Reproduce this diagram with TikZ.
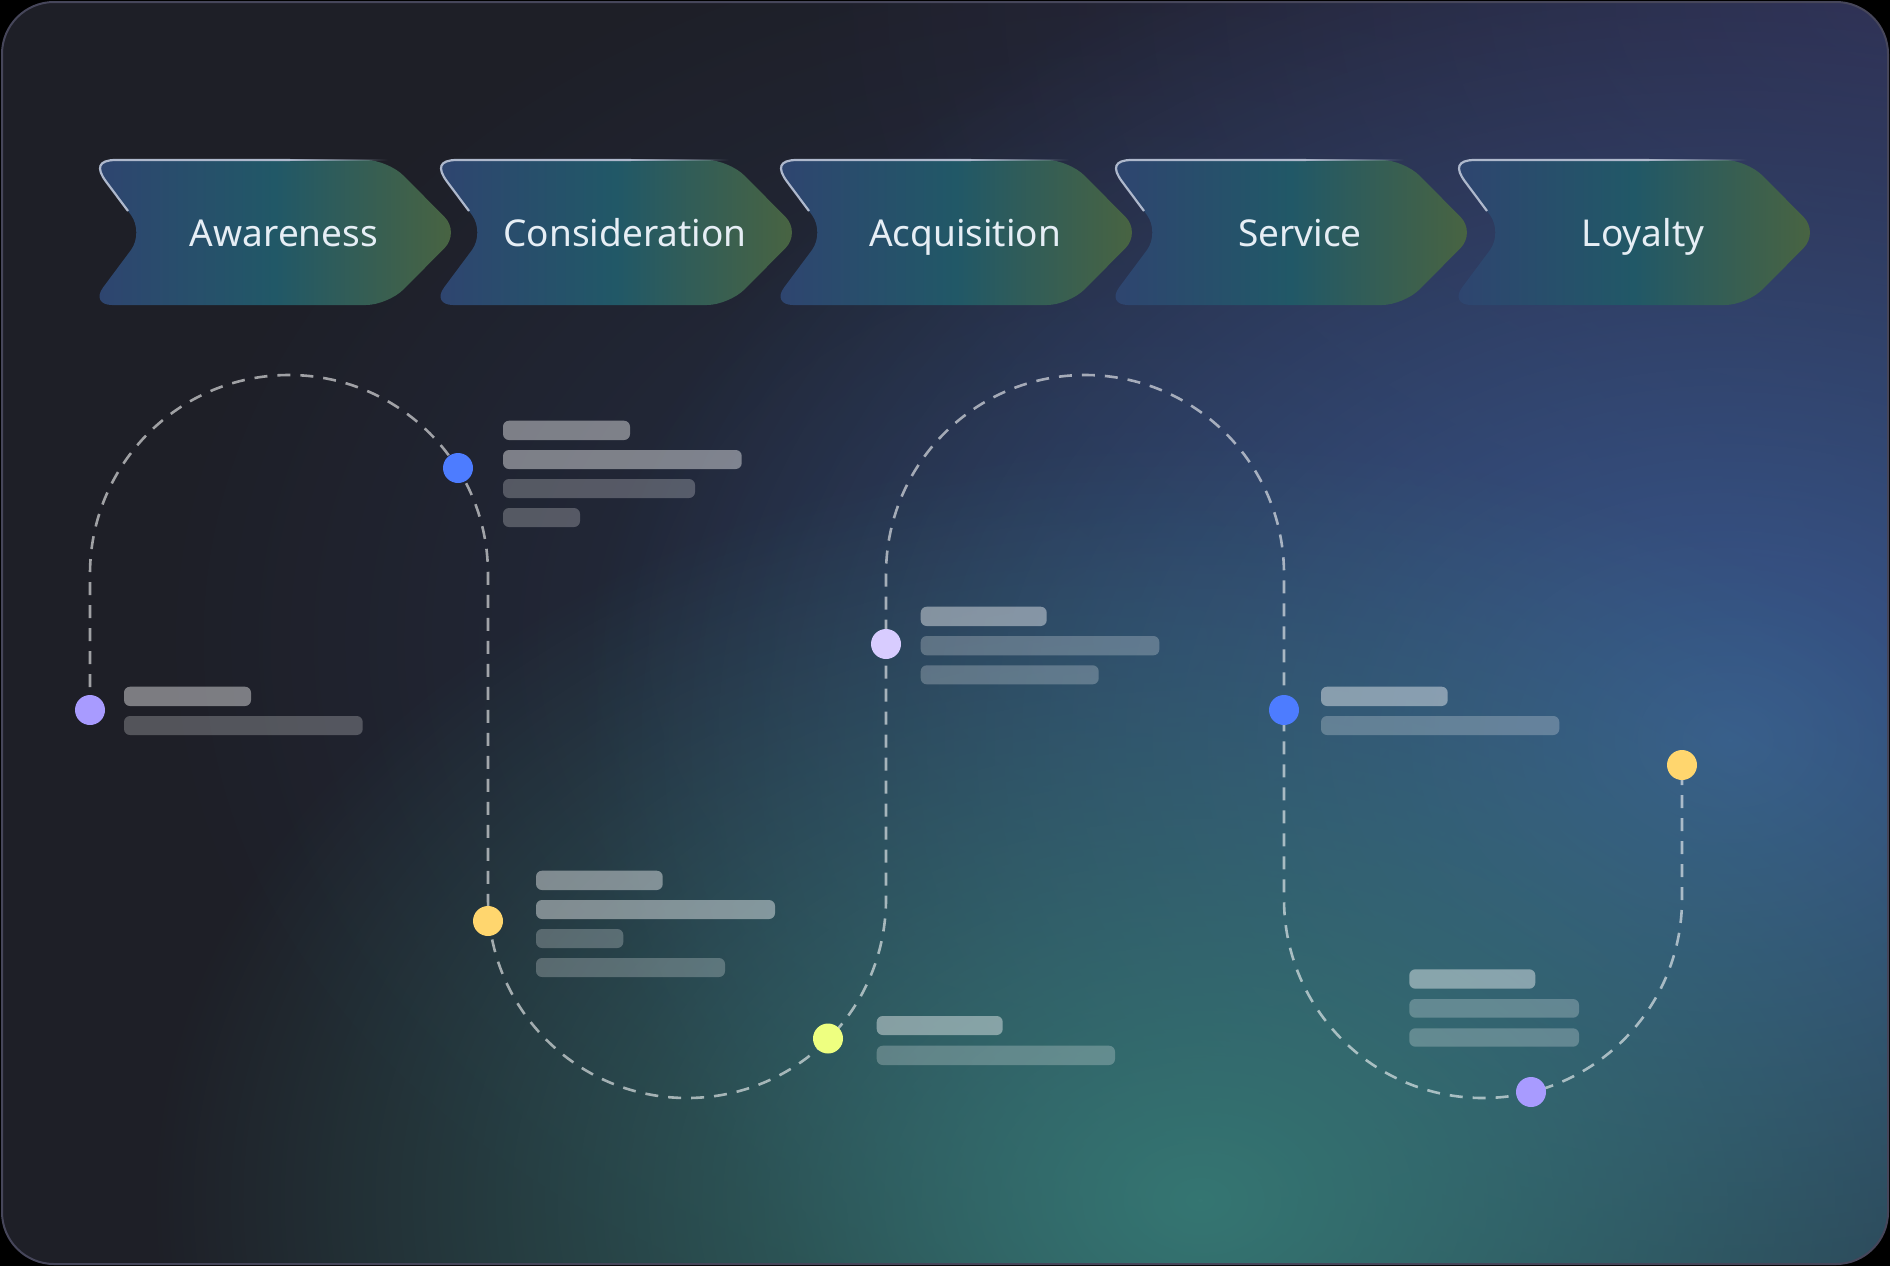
\documentclass[tikz,border=0pt]{standalone}
\usepackage{fontspec}
\setmainfont{Noto Sans}
\usetikzlibrary{fadings}
\definecolor{bgbase}{HTML}{1E1F27}
\definecolor{cardedge}{HTML}{46465A}
\definecolor{glowpurple}{HTML}{2E2C4C}
\definecolor{glowmid}{HTML}{26314A}
\definecolor{glowblue}{HTML}{3A5A92}
\definecolor{glowteal}{HTML}{357672}
\definecolor{chevL}{HTML}{2F4470}
\definecolor{chevM}{HTML}{215867}
\definecolor{chevR}{HTML}{4A6440}
\definecolor{hiline}{HTML}{AEB8CC}
\definecolor{stagetext}{HTML}{E6EEF5}
\definecolor{dotpurple}{HTML}{A89BFF}
\definecolor{dotblue}{HTML}{4D7CFF}
\definecolor{dotyellow}{HTML}{FFD66E}
\definecolor{dotlime}{HTML}{EEFF80}
\definecolor{dotlav}{HTML}{D8CCFF}
\tikzfading[name=glowfade, inner color=transparent!0, outer color=transparent!100]
\newcommand\journeystage[3]{%
  \path[shade, left color=chevL, right color=chevR, middle color=chevM, rounded corners=22pt]
    (#1+150,160) -- (#1+288,160) -- (#1+360,232.5) -- (#1+288,305) -- (#1-10,305)
    -- (#1+44,232.5) -- (#1-10,160) -- cycle;
  \draw[hiline, line width=2.2pt]
    (#1+28,211) -- (#1+6,181.5) .. controls (#1-4,168) and (#1-2,160) .. (#1+16,160) -- (#1+190,160);
  \fill[hiline, path fading=east] (#1+189,158.9) rectangle (#1+288,161.1);
  \node[stagelabel] (#2) at (#1+184,246) {#3};
}
\begin{document}
\begin{tikzpicture}[x=1pt,y=-1pt,
  stagelabel/.style={font=\fontsize{37}{44}\selectfont, text=stagetext, anchor=base, inner sep=0pt},
  barhi/.style={fill=white, fill opacity=0.42, rounded corners=6pt},
  barlo/.style={fill=white, fill opacity=0.24, rounded corners=6pt},
  dotnode/.style={circle, minimum size=30pt, inner sep=0pt, draw=none},
  trail/.style={draw=white, draw opacity=0.58, line width=2.6pt, dash pattern=on 13pt off 10pt}]
\useasboundingbox (0,0) rectangle (1890,1266);
\fill[black] (0,0) rectangle (1890,1266);
\begin{scope}
  \clip[rounded corners=52pt] (2,2) rectangle (1888,1264);
  \fill[bgbase] (0,0) rectangle (1890,1266);
  \fill[glowmid, path fading=glowfade] (1150,640) ellipse (1000 and 750);
  \fill[glowpurple, path fading=glowfade] (1890,0) ellipse (1100 and 780);
  \fill[glowblue, path fading=glowfade] (1730,740) ellipse (1150 and 880);
  \fill[glowteal, path fading=glowfade] (1200,1200) ellipse (1050 and 760);
\end{scope}
\draw[cardedge, line width=2pt, rounded corners=52pt] (2,2) rectangle (1888,1264);

% stages
\journeystage{100}{s1}{Awareness}
\journeystage{441}{s2}{Consideration}
\journeystage{781}{s3}{Acquisition}
\journeystage{1116}{s4}{Service}
\journeystage{1459}{s5}{Loyalty}

% trail
\coordinate (p1) at (90,710);
\coordinate (p7) at (1682,765);
\draw[trail] (p1) -- (90,574) arc[start angle=180, end angle=360, radius=199]
  -- (488,899) arc[start angle=180, end angle=0, radius=199]
  -- (886,574) arc[start angle=180, end angle=360, radius=199]
  -- (1284,899) arc[start angle=180, end angle=0, radius=199]
  -- (p7);

% placeholder bars
\fill[barhi] (124,686.7) rectangle (251,706);
\fill[barlo] (124,716) rectangle (362.7,735);

\fill[barhi] (503,420.7) rectangle (630,440);
\fill[barhi] (503,450) rectangle (741.7,469);
\fill[barlo] (503,479) rectangle (695,498);
\fill[barlo] (503,508) rectangle (580,527);

\fill[barhi] (536,870.7) rectangle (662.7,890);
\fill[barhi] (536,900) rectangle (775,919);
\fill[barlo] (536,929) rectangle (623.3,948);
\fill[barlo] (536,958) rectangle (725,977);

\fill[barhi] (876.7,1016) rectangle (1002.7,1035);
\fill[barlo] (876.7,1045.7) rectangle (1115,1065);

\fill[barhi] (920.7,606.7) rectangle (1046.7,626);
\fill[barlo] (920.7,636) rectangle (1159.3,655.3);
\fill[barlo] (920.7,665.3) rectangle (1098.7,684.3);

\fill[barhi] (1321,686.7) rectangle (1447.7,706);
\fill[barlo] (1321,716) rectangle (1559.3,735);

\fill[barhi] (1409.3,969.3) rectangle (1535.3,988.7);
\fill[barlo] (1409.3,999) rectangle (1579,1017.7);
\fill[barlo] (1409.3,1028.3) rectangle (1579,1046.7);

% dots
\node[dotnode, fill=dotpurple] (d1) at (p1) {};
\node[dotnode, fill=dotblue] (d2) at (458,468) {};
\node[dotnode, fill=dotyellow] (d3) at (488,921) {};
\node[dotnode, fill=dotlime] (d4) at (828,1038.5) {};
\node[dotnode, fill=dotlav] (d5) at (886,644) {};
\node[dotnode, fill=dotblue] (d6) at (1284,710) {};
\node[dotnode, fill=dotyellow] (d7) at (p7) {};
\node[dotnode, fill=dotpurple] (d8) at (1531,1092) {};
\end{tikzpicture}
\end{document}
